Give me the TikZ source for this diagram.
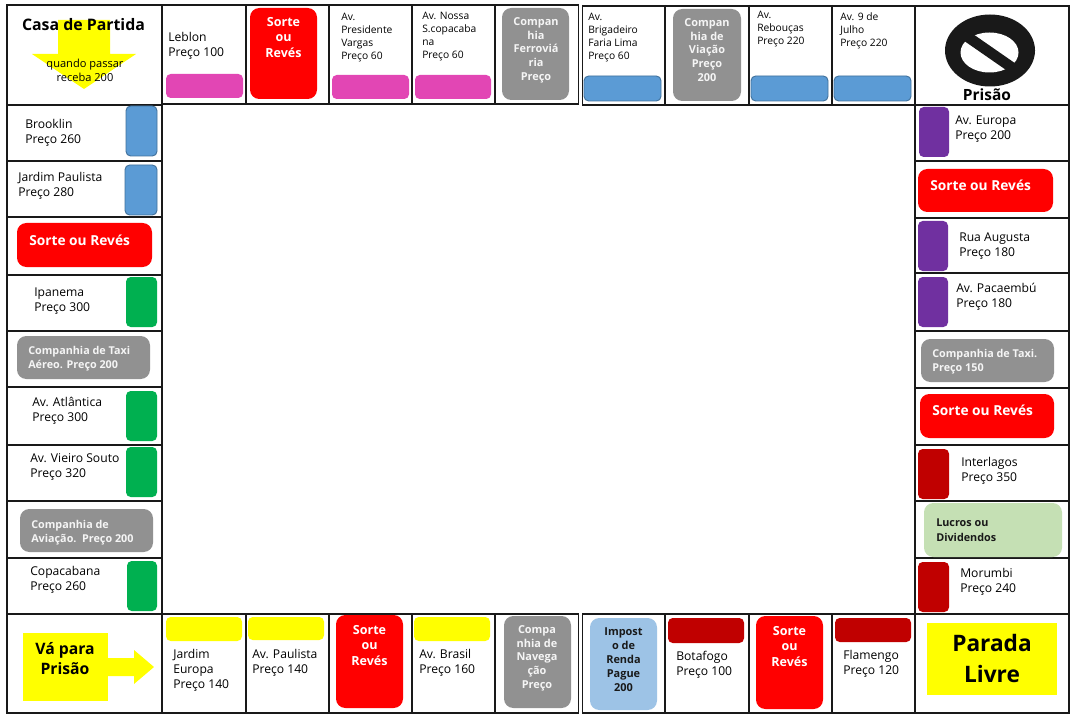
\documentclass[tikz,border=0pt]{standalone}
\usepackage{fontspec}
\setmainfont{Open Sans}
\definecolor{pink}{HTML}{E246B4}
\definecolor{sky}{HTML}{5B9BD5}
\definecolor{skyedge}{HTML}{41719C}
\definecolor{gris}{HTML}{919191}
\definecolor{verde}{HTML}{00B050}
\definecolor{roxo}{HTML}{7030A0}
\definecolor{escuro}{HTML}{C00000}
\definecolor{claro}{HTML}{9DC3E6}
\definecolor{menta}{HTML}{C5E0B4}
\definecolor{amarelo}{HTML}{FFFF00}
\definecolor{vermelho}{HTML}{FF0000}
\newcommand\pad[6]{\pgfmathsetlengthmacro\padw{(#4-#2)*0.75}\pgfmathsetlengthmacro\padh{(#5-#3)*0.75}%
\node[#6,minimum width=\padw,minimum height=\padh] (#1) at ({(#2+#4)/2},{(#3+#5)/2}) {};}
\newcommand\lab[5]{\node[#4] (#1) at (#2,#3) {#5};}
\tikzset{
x=0.75pt,y=-0.75pt,
padbase/.style={rectangle,rounded corners=3.5pt,inner sep=0pt,outer sep=0pt},
red/.style={padbase,fill=vermelho,rounded corners=7pt},
gray/.style={padbase,fill=gris,rounded corners=7pt},
pinkpad/.style={padbase,fill=pink},
bluepad/.style={padbase,fill=sky,draw=skyedge,line width=.7pt},
greenpad/.style={padbase,fill=verde},
purplepad/.style={padbase,fill=roxo},
darkpad/.style={padbase,fill=escuro},
yellowpad/.style={padbase,fill=amarelo},
prop/.style={anchor=north west,inner sep=0pt,align=left,yshift=0.3pt,font=\fontsize{9.1}{11.4}\selectfont,text=black},
small/.style={anchor=north west,inner sep=0pt,align=left,font=\fontsize{7.7}{9.8}\selectfont,text=black},
whitev/.style={anchor=north,inner sep=0pt,align=center,font=\fontsize{9.4}{11.6}\selectfont\bfseries,text=white},
grayv/.style={anchor=north,inner sep=0pt,align=center,font=\fontsize{8.2}{10.4}\selectfont\bfseries,text=white!92!gray},
whiteh/.style={anchor=north west,inner sep=0pt,align=left,yshift=-0.4pt,font=\fontsize{10.3}{12}\selectfont\bfseries,text=white},
grayh/.style={anchor=north west,inner sep=0pt,align=left,yshift=-0.6pt,font=\fontsize{8.1}{10.6}\selectfont\bfseries,text=white!92!gray},
heavy/.style={line width=1.9pt,draw=black!90},
grid/.style={line width=1.2pt,draw=black!90},
}
\begin{document}
\begin{tikzpicture}
\useasboundingbox (0,0) rectangle (1080,720);
\fill[white] (0,0) rectangle (1080,720);
% arrows and yellow art below the text
\fill[amarelo] (58,20) -- (110,20) -- (110,54) -- (136,54) -- (84,89) -- (32,54) -- (58,54) -- cycle;
\pad{varect}{23}{633}{108}{701}{padbase,rounded corners=0pt,fill=amarelo}
\fill[amarelo] (108,658) -- (134,658) -- (134,650) -- (154,667) -- (134,684) -- (134,676) -- (108,676) -- cycle;
\pad{parada}{927}{623}{1057}{695}{padbase,rounded corners=0pt,fill=amarelo}
% board lines
\draw[heavy] (7,5) rectangle (162,713);
\draw[heavy] (162,5) -- (578.5,5) (162,713) -- (578.5,713);
\draw[heavy] (582.5,6) -- (915,6) (582.5,713) -- (915,713);
\draw[heavy] (915,6) -- (1069,6) -- (1069,713) -- (915,713);
\draw[heavy] (162,104) -- (578.5,104) (582.5,105) -- (915,105) (162,614) -- (578.5,614) (582.5,614) -- (915,614);
\draw[grid] (578.5,4) -- (578.5,105) (578.5,613) -- (578.5,714) (582.5,5) -- (582.5,106) (582.5,613) -- (582.5,714);
\draw[grid] (162,104) -- (162,614) (915,6) -- (915,713);
\foreach \v in {246,329,412,495,665,749,832}{\draw[grid] (\v,5) -- (\v,105) (\v,614) -- (\v,713);}
\foreach \v in {105,161,217,275,331,387,445,501,558,614}{\draw[grid] (7,\v) -- (162,\v);}
\foreach \v in {105,161,218,273,331,388,445,501,558,614}{\draw[grid] (915,\v) -- (1069,\v);}
% top row
\pad{p1}{166}{74}{243}{98}{pinkpad}
\pad{r1}{250}{8}{317}{99}{red}
\pad{p2}{332}{75}{409}{99}{pinkpad}
\pad{p3}{415}{75}{491}{99}{pinkpad}
\pad{g1}{502}{8}{569}{100}{gray}
\pad{b1}{584}{76}{661}{101}{bluepad}
\pad{g2}{673}{9}{741}{101}{gray}
\pad{b2}{751}{76}{828}{101}{bluepad}
\pad{b3}{834}{76}{911}{101}{bluepad}
% left column
\pad{b4}{126}{106}{157}{156}{bluepad}
\pad{b5}{125}{165}{157}{215}{bluepad}
\pad{r2}{17}{223}{152}{267}{red}
\pad{v1}{126}{277}{157}{327}{greenpad}
\pad{g3}{17}{336}{150}{379}{gray}
\pad{v2}{126}{391}{157}{441}{greenpad}
\pad{v3}{126}{447}{157}{497}{greenpad}
\pad{g4}{20}{509}{153}{552}{gray}
\pad{v4}{127}{561}{157}{611}{greenpad}
% right column
\pad{u1}{919}{107}{949}{157}{purplepad}
\pad{r3}{918}{169}{1053}{212}{red}
\pad{u2}{918}{221}{948}{271}{purplepad}
\pad{u3}{918}{277}{948}{327}{purplepad}
\pad{g5}{921}{339}{1054}{382}{gray}
\pad{r4}{920}{394}{1054}{438}{red}
\pad{d1}{918}{449}{949}{499}{darkpad}
\pad{m1}{924}{503}{1062}{557}{padbase,fill=menta,rounded corners=7pt}
\pad{d2}{918}{562}{949}{612}{darkpad}
% bottom row
\pad{y1}{166}{617}{242}{641}{yellowpad}
\pad{y2}{248}{617}{324}{640}{yellowpad}
\pad{r5}{336}{615}{403}{708}{red}
\pad{y3}{414}{617}{490}{641}{yellowpad}
\pad{g6}{504}{616}{571}{708}{gray}
\pad{i1}{590}{618}{657}{710}{padbase,fill=claro,rounded corners=7pt}
\pad{d3}{668}{618}{744}{643}{darkpad}
\pad{r6}{756}{616}{823}{709}{red}
\pad{d4}{835}{618}{911}{642}{darkpad}
% corners
\lab{casa}{83.5}{18}{anchor=north,inner sep=0pt,font=\fontsize{11.9}{13}\selectfont\bfseries}{Casa de Partida}
\lab{quando}{85}{59}{anchor=north,inner sep=0pt,align=center,font=\fontsize{8.3}{10.4}\selectfont}{quando passar\\receba 200}
\lab{va}{65}{642}{anchor=north,inner sep=0pt,align=center,font=\fontsize{11.8}{15}\selectfont\bfseries}{Vá para\\Prisão}
\lab{pl}{992}{634}{anchor=north,inner sep=0pt,align=center,font=\fontsize{17}{23}\selectfont\bfseries}{Parada\\Livre}
\fill[black!90] (990,50.5) ellipse [x radius=45,y radius=36];
\fill[white] (989.5,52.5) ellipse [x radius=29,y radius=20];
\draw[black!90,line width=8pt] (965,35) -- (1014,69);
\lab{pris}{987}{88}{anchor=north,inner sep=0pt,font=\fontsize{11.6}{12}\selectfont\bfseries}{Prisão}
% property labels
\lab{t1}{168}{32}{prop}{Leblon\\Preço 100}
\lab{t2}{341}{13}{small}{Av.\\Presidente\\Vargas\\Preço 60}
\lab{t3}{422}{12}{small}{Av. Nossa\\S.copacaba\\na\\Preço 60}
\lab{t4}{588}{13}{small}{Av.\\Brigadeiro\\Faria Lima\\Preço 60}
\lab{t5}{757}{11}{small}{Av.\\Rebouças\\Preço 220}
\lab{t6}{840}{12}{small}{Av. 9 de\\Julho\\Preço 220}
\lab{t7}{25}{119}{prop}{Brooklin\\Preço 260}
\lab{t8}{18}{172}{prop}{Jardim Paulista\\Preço 280}
\lab{t9}{34}{288}{prop}{Ipanema\\Preço 300}
\lab{t10}{32}{397}{prop}{Av. Atlântica\\Preço 300}
\lab{t11}{30}{454}{prop}{Av. Vieiro Souto\\Preço 320}
\lab{t12}{30}{566}{prop}{Copacabana\\Preço 260}
\lab{t13}{955}{116}{prop}{Av. Europa\\Preço 200}
\lab{t14}{959}{233}{prop}{Rua Augusta\\Preço 180}
\lab{t15}{956}{283}{prop}{Av. Pacaembú\\Preço 180}
\lab{t16}{961}{457}{prop}{Interlagos\\Preço 350}
\lab{t17}{960}{568}{prop}{Morumbi\\Preço 240}
\lab{t18}{173}{649}{prop}{Jardim\\Europa\\Preço 140}
\lab{t19}{252}{649}{prop}{Av. Paulista\\Preço 140}
\lab{t20}{419}{649}{prop}{Av. Brasil\\Preço 160}
\lab{t21}{676}{651}{prop}{Botafogo\\Preço 100}
\lab{t22}{843}{650}{prop}{Flamengo\\Preço 120}
% pad labels
\lab{s1}{283.5}{17}{whitev}{Sorte\\ou\\Revés}
\lab{s2}{369.5}{625}{whitev}{Sorte\\ou\\Revés}
\lab{s3}{789.5}{626}{whitev}{Sorte\\ou\\Revés}
\lab{s4}{29}{234}{whiteh}{Sorte ou Revés}
\lab{s5}{930}{179}{whiteh}{Sorte ou Revés}
\lab{s6}{932}{404}{whiteh}{Sorte ou Revés}
\lab{c1}{536}{17}{grayv}{Compan\\hia\\Ferroviá\\ria\\Preço}
\lab{c2}{707}{18}{grayv}{Compan\\hia de\\Viação\\Preço\\200}
\lab{c3}{537}{625}{grayv}{Compa\\nhia de\\Navega\\ção\\Preço}
\lab{c4}{28}{345}{grayh}{Companhia de Taxi\\Aéreo. Preço 200}
\lab{c5}{31}{519}{grayh}{Companhia de\\Aviação.~~Preço 200}
\lab{c6}{932}{348}{grayh}{Companhia de Taxi.\\Preço 150}
\lab{imp}{623.5}{627}{anchor=north,inner sep=0pt,align=center,font=\fontsize{8.2}{10.5}\selectfont\bfseries,text=black!90}{Impost\\o de\\Renda\\Pague\\200}
\lab{luc}{936}{518}{anchor=north west,inner sep=0pt,align=left,yshift=-0.6pt,font=\fontsize{8.1}{11.3}\selectfont\bfseries,text=black!90}{Lucros ou\\Dividendos}
\end{tikzpicture}
\end{document}
